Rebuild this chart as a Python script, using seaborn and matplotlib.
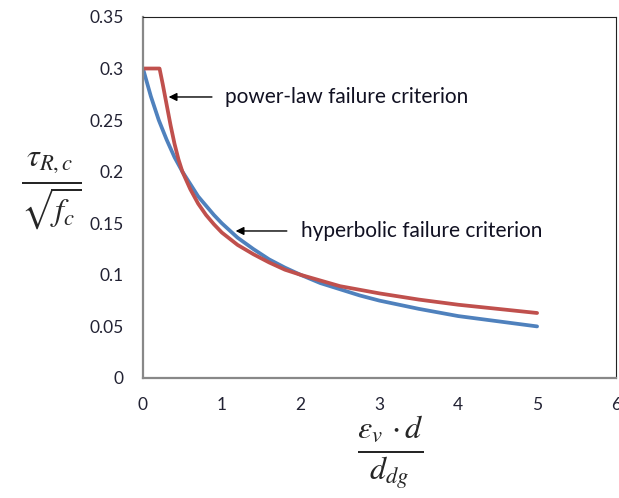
import matplotlib
matplotlib.use("Agg")
import matplotlib.pyplot as plt
import seaborn as sns
import pandas as pd

# hyperbolic failure criterion (blue)
hyp_x = [0.0, 0.1, 0.2, 0.3, 0.4, 0.5, 0.6, 0.7, 0.8, 0.9, 1.0, 1.2, 1.4, 1.6, 1.8,
         2.0, 2.25, 2.5, 2.75, 3.0, 3.5, 4.0, 4.5, 5.0]
hyp_y = [0.300, 0.273, 0.250, 0.231, 0.214, 0.200, 0.188, 0.176, 0.167, 0.158, 0.150,
         0.136, 0.125, 0.115, 0.107, 0.100, 0.092, 0.086, 0.080, 0.075, 0.067, 0.060,
         0.055, 0.050]
# power-law failure criterion (red)
pow_x = [0.0, 0.1, 0.21, 0.25, 0.3, 0.35, 0.4, 0.45, 0.5, 0.6, 0.7, 0.8, 0.9, 1.0,
         1.2, 1.4, 1.6, 1.8, 2.0, 2.5, 3.0, 3.5, 4.0, 4.5, 5.0]
pow_y = [0.300, 0.300, 0.300, 0.285, 0.265, 0.245, 0.227, 0.212, 0.200, 0.183, 0.169,
         0.158, 0.149, 0.141, 0.129, 0.120, 0.112, 0.105, 0.100, 0.089, 0.082, 0.076,
         0.071, 0.067, 0.063]

x_ticks = [0, 1, 2, 3, 4, 5, 6]
y_ticks = [0, 0.05, 0.1, 0.15, 0.2, 0.25, 0.3, 0.35]
y_tick_labels = ["0", "0.05", "0.1", "0.15", "0.2", "0.25", "0.3", "0.35"]

sns.set_theme(style="white")
plt.rcParams["font.family"] = ["Lato", "DejaVu Sans"]
plt.rcParams["mathtext.fontset"] = "stix"

df = pd.concat([
    pd.DataFrame({"x": hyp_x, "y": hyp_y, "s": "hyperbolic"}),
    pd.DataFrame({"x": pow_x, "y": pow_y, "s": "power"}),
])

fig = plt.figure(figsize=(6.19, 4.98), dpi=100)
ax = fig.add_axes([0.231, 0.241, 0.764, 0.725])
sns.lineplot(data=df, x="x", y="y", hue="s", palette={"hyperbolic": "#4F81BD", "power": "#C0504D"},
             hue_order=["hyperbolic", "power"], linewidth=2.7, ax=ax, legend=False, sort=False)

ax.set_xlim(0, 6)
ax.set_ylim(0, 0.35)
ax.set_xticks(x_ticks)
ax.set_xticklabels([str(t) for t in x_ticks])
ax.set_yticks(y_ticks)
ax.set_yticklabels(y_tick_labels)
ax.set_xlabel("")
ax.set_ylabel("")
for side in ["left", "bottom"]:
    ax.spines[side].set_color("#888888")
    ax.spines[side].set_linewidth(1.6)
for side in ["top", "right"]:
    ax.spines[side].set_color("#222222")
    ax.spines[side].set_linewidth(0.8)
ax.tick_params(axis="both", direction="out", length=5, width=1.2, color="#888888",
               labelsize=12.5, labelcolor="#222233")
ax.tick_params(axis="y", pad=9)
ax.tick_params(axis="x", pad=9)

ax.annotate("", xy=(0.29, 0.2724), xytext=(0.91, 0.2724),
            arrowprops=dict(arrowstyle="-|>", color="black", lw=1.0, mutation_scale=12))
ax.text(1.04, 0.2724, "power-law failure criterion", fontsize=15, va="center", ha="left", color="#111122")
ax.annotate("", xy=(1.14, 0.1425), xytext=(1.86, 0.1425),
            arrowprops=dict(arrowstyle="-|>", color="black", lw=1.0, mutation_scale=12))
ax.text(2.0, 0.1425, "hyperbolic failure criterion", fontsize=15, va="center", ha="left", color="#111122")

fig.text(0.083, 0.615, r"$\frac{\tau_{R,c}}{\sqrt{f_c}}$", fontsize=33, ha="center", va="center")
fig.text(0.63, 0.09, r"$\frac{\varepsilon_v\,\cdot d}{d_{dg}}$", fontsize=33, ha="center", va="center")

fig.savefig("out.png", dpi=100)
